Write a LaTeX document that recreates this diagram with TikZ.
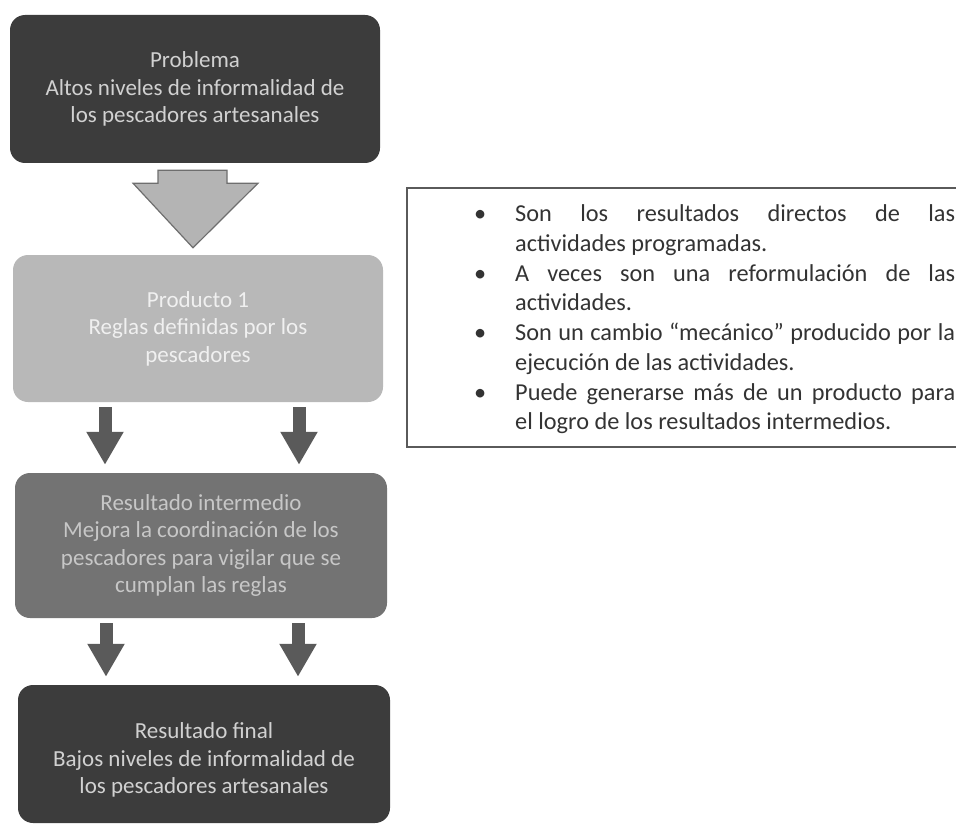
\documentclass[tikz,border=0pt]{standalone}
\usepackage{fontspec}
\setmainfont{Carlito}
\usetikzlibrary{calc,arrows.meta}
\definecolor{boxdark}{HTML}{3C3C3C}
\definecolor{boxlight}{HTML}{B8B8B8}
\definecolor{boxmid}{HTML}{737373}
\definecolor{arrowfill}{HTML}{B4B4B4}
\definecolor{arrowline}{HTML}{6E6E6E}
\definecolor{smallarrow}{HTML}{5A5A5A}
\definecolor{framegray}{HTML}{5A5A5A}
\definecolor{notetextcol}{HTML}{333333}
\tikzset{
  flowbox/.style={rounded corners=15pt, align=center, inner sep=0pt,
    font=\fontsize{23}{27.5}\selectfont},
  darkbox/.style={flowbox, fill=boxdark, text=black!18},
  lightbox/.style={flowbox, fill=boxlight, text=white!94!black},
  midbox/.style={flowbox, fill=boxmid, text=black!22},
  boxlabel/.style={align=center, inner sep=0pt, font=\fontsize{23}{27.5}\selectfont},
  bigarrow/.style={fill=arrowfill, draw=arrowline, line width=1.2pt, line join=miter},
  downarrow/.style={draw=smallarrow, line width=13pt, line cap=butt,
    -{Triangle[width=35pt,length=33pt]}, shorten <=5pt, shorten >=8pt},
  notebox/.style={draw=framegray, line width=1.3pt}
}
\begin{document}
\begin{tikzpicture}[x=1pt,y=-1pt]
\useasboundingbox (0,0) rectangle (956,824);
% boxes
\node[darkbox, minimum width=370pt, minimum height=148pt] (prob) at (195,89)
  {Problema\\Altos niveles de informalidad de\\los pescadores artesanales};
\node[lightbox, minimum width=370pt, minimum height=147pt] (prod) at (198,328.5)
  {Producto 1\\Reglas definidas por los\\pescadores};
\node[midbox, minimum width=372pt, minimum height=145pt] (inter) at (201,545.5)
  {Resultado intermedio\\Mejora la coordinación de los\\pescadores para vigilar que se\\cumplan las reglas};
\node[darkbox, minimum width=372pt, minimum height=138pt] (final) at (204,754) {};
\node[boxlabel, text=black!18] (finaltext) at ([yshift=-6pt]final.center)
  {Resultado final\\Bajos niveles de informalidad de\\los pescadores artesanales};
% big block arrow
\draw[bigarrow] ($(prob.south)+(-37,7)$) -- ($(prob.south)+(32,7)$)
  -- ($(prob.south)+(32,20)$) -- ($(prob.south)+(63,20)$)
  -- ($(prod.north)+(-5,-7)$)
  -- ($(prob.south)+(-62,20)$) -- ($(prob.south)+(-37,20)$) -- cycle;
% small arrows
\coordinate (colA) at (105,0);
\coordinate (colB) at (299,0);
\coordinate (colC) at (106,0);
\coordinate (colD) at (298,0);
\draw[downarrow] (prod.south -| colA) -- (inter.north -| colA);
\draw[downarrow] (prod.south -| colB) -- (inter.north -| colB);
\draw[downarrow] (inter.south -| colC) -- (final.north -| colC);
\draw[downarrow] (inter.south -| colD) -- (final.north -| colD);
% note box
\node[notebox, minimum width=556pt, minimum height=259pt, inner sep=0pt] (note) at (685,317.5) {};
\node[anchor=north west, inner sep=0pt, text width=485pt, align=justify, text=notetextcol,
  font=\fontsize{24.3}{29.7}\selectfont] (notetext) at (470,192)
{\hyphenpenalty=10000\exhyphenpenalty=10000
 \begin{list}{\makebox[0pt][c]{\textbullet}}{\leftmargin=45pt \labelwidth=0pt \labelsep=35pt
   \itemsep=0pt \parsep=0pt \topsep=0pt \partopsep=0pt \rightmargin=0pt}
 \item Son los resultados directos de las\linebreak actividades programadas.
 \item A veces son una reformulación de las\linebreak actividades.
 \item Son un cambio “mecánico” producido por la\linebreak ejecución de las actividades.
 \item Puede generarse más de un producto para\linebreak el logro de los resultados intermedios.
 \end{list}};
\end{tikzpicture}
\end{document}
